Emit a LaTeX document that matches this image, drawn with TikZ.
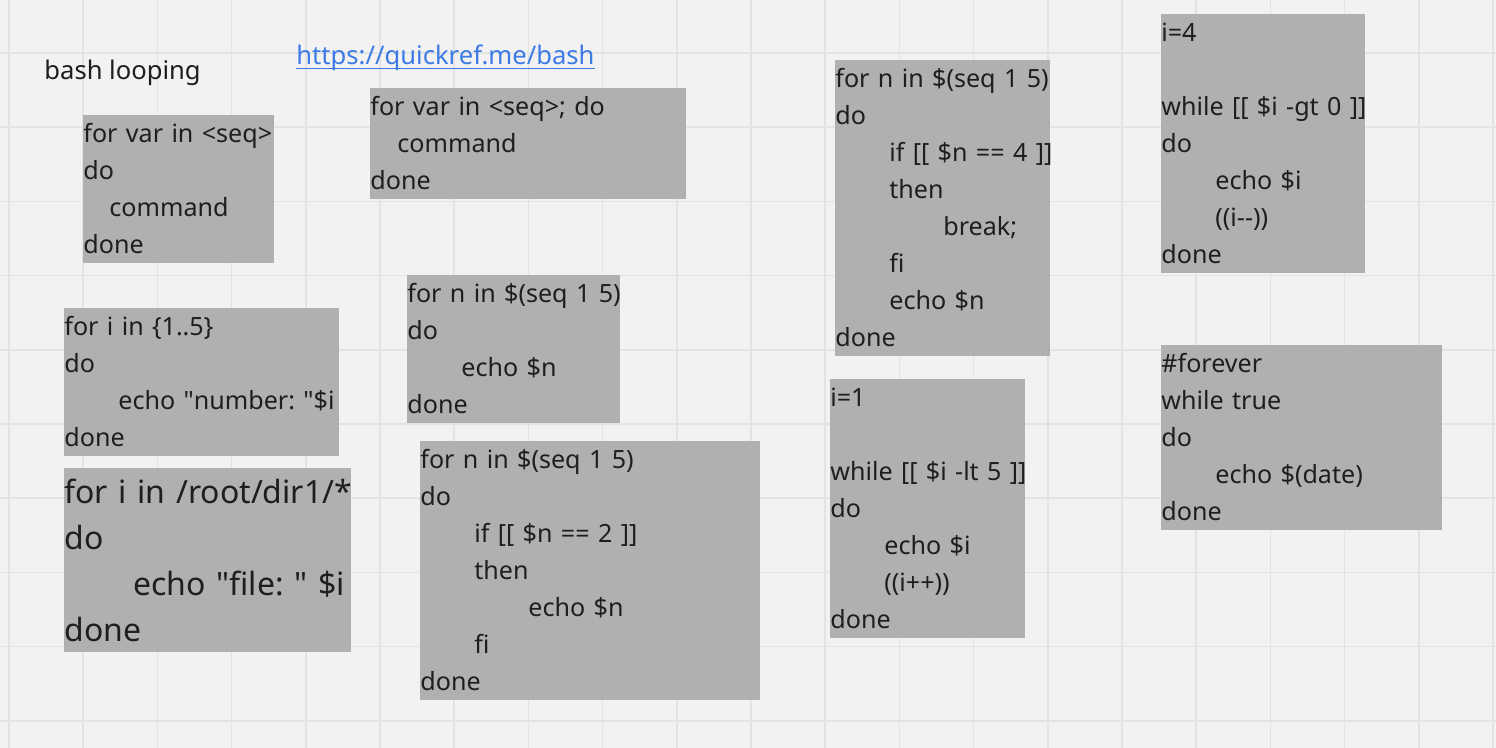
\documentclass[tikz,border=0pt]{standalone}
\usepackage{fontspec}
\setmainfont{Noto Sans}
\usetikzlibrary{positioning}
\usepackage{xcolor}
\frenchspacing

\definecolor{boardbg}{HTML}{F2F2F2}
\definecolor{gridgray}{HTML}{E3E3E3}
\definecolor{boxgray}{HTML}{B0B0B0}
\definecolor{inkgray}{HTML}{1E1E1E}
\definecolor{linkblue}{HTML}{3C7BE6}

\newcommand{\rowstrut}{\rule[-5pt]{0pt}{18.5pt}}
\newcommand{\largestrut}{\rule[-5.5pt]{0pt}{23pt}}
\newcommand{\codeln}[1]{\mbox{\rowstrut#1}}
\newcommand{\bigln}[1]{\mbox{\largestrut#1}}
\newcommand{\tb}{\hspace*{27pt}}
\newcommand{\dq}{\textquotedbl}

\tikzset{
  gridline/.style={gridgray, line width=0.75pt},
  codebox/.style={fill=boxgray, text=inkgray, inner sep=0pt, anchor=north west,
    align=left, text width=#1, font=\fontsize{12.55}{18.5}\selectfont},
  bigbox/.style={codebox=#1, font=\fontsize{16}{23}\selectfont},
  heading/.style={inner sep=0pt, anchor=base west, text=inkgray, font=\fontsize{12.8}{15}\selectfont},
  weblink/.style={heading, text=linkblue}
}

\begin{document}
\begin{tikzpicture}[x=0.5pt,y=-0.5pt]
	\fill [boardbg] (0,0) rectangle (1496,748);
	\useasboundingbox (0,0) rectangle (1496,748);
	\foreach \gx in {0,...,20}
		\draw [gridline] ({9+74.2*\gx},0) -- ++(0,748);
	\foreach \gy in {0,...,9}
		\draw [gridline] (0,{53+74.2*\gy}) -- ++(1496,0);

	\node [heading] (title) at (44,80) {bash looping};
	\node [weblink] (link) at (296,65) {https://quickref.me/bash};
	\draw [linkblue, line width=0.8pt] ([yshift=-1.8pt]link.base west) -- ([yshift=-1.8pt]link.base east);

	\node [codebox=95.5pt] (forseq) at (83,115) {\codeln{for var in <seq>}\\ \codeln{do}\\
		\codeln{\hspace*{13pt}command}\\ \codeln{done}};
	\node [codebox=158pt] (forseqdo) at (370,88) {\codeln{for var in <seq>; do}\\
		\codeln{\hspace*{13.5pt}command}\\ \codeln{done}};
	\node [codebox=137.5pt] (forrange) at (64,308) {\codeln{for i in \{1..5\}}\\ \codeln{do}\\
		\codeln{\tb echo \dq number: \dq\$i}\\ \codeln{done}};
	\node [bigbox=143.5pt] (forfiles) at (64,468) {\bigln{for i in /root/dir1/*}\\ \bigln{do}\\
		\bigln{\hspace*{34.5pt}echo \dq file: \dq{} \$i}\\ \bigln{done}};

	\node [codebox=106.5pt] (forecho) at (407,275) {\codeln{for n in \$(seq 1 5)}\\ \codeln{do}\\
		\codeln{\tb echo \$n}\\ \codeln{done}};
	\node [codebox=170pt] (forif) at (420,441) {\codeln{for n in \$(seq 1 5)}\\ \codeln{do}\\
		\codeln{\tb if [[ \$n == 2 ]]}\\ \codeln{\tb then}\\ \codeln{\tb\tb echo \$n}\\
		\codeln{\tb fi}\\ \codeln{done}};

	\node [codebox=107.5pt] (forbreak) at (835,60) {\codeln{for n in \$(seq 1 5)}\\ \codeln{do}\\
		\codeln{\tb if [[ \$n == 4 ]]}\\ \codeln{\tb then}\\ \codeln{\tb\tb break;}\\
		\codeln{\tb fi}\\ \codeln{\tb echo \$n}\\ \codeln{done}};
	\node [codebox=97.5pt] (whileup) at (830,379) {\codeln{i=1}\\ \codeln{}\\
		\codeln{while [[ \$i -lt 5 ]]}\\ \codeln{do}\\ \codeln{\tb echo \$i}\\
		\codeln{\tb ((i++))}\\ \codeln{done}};

	\node [codebox=102pt] (whiledown) at (1161,14) {\codeln{i=4}\\ \codeln{}\\
		\codeln{while [[ \$i -gt 0 ]]}\\ \codeln{do}\\ \codeln{\tb echo \$i}\\
		\codeln{\tb ((i-{}-))}\\ \codeln{done}};
	\node [codebox=140.5pt] (forever) at (1161,345) {\codeln{\#forever}\\ \codeln{while true}\\
		\codeln{do}\\ \codeln{\tb echo \$(date)}\\ \codeln{done}};
\end{tikzpicture}
\end{document}
